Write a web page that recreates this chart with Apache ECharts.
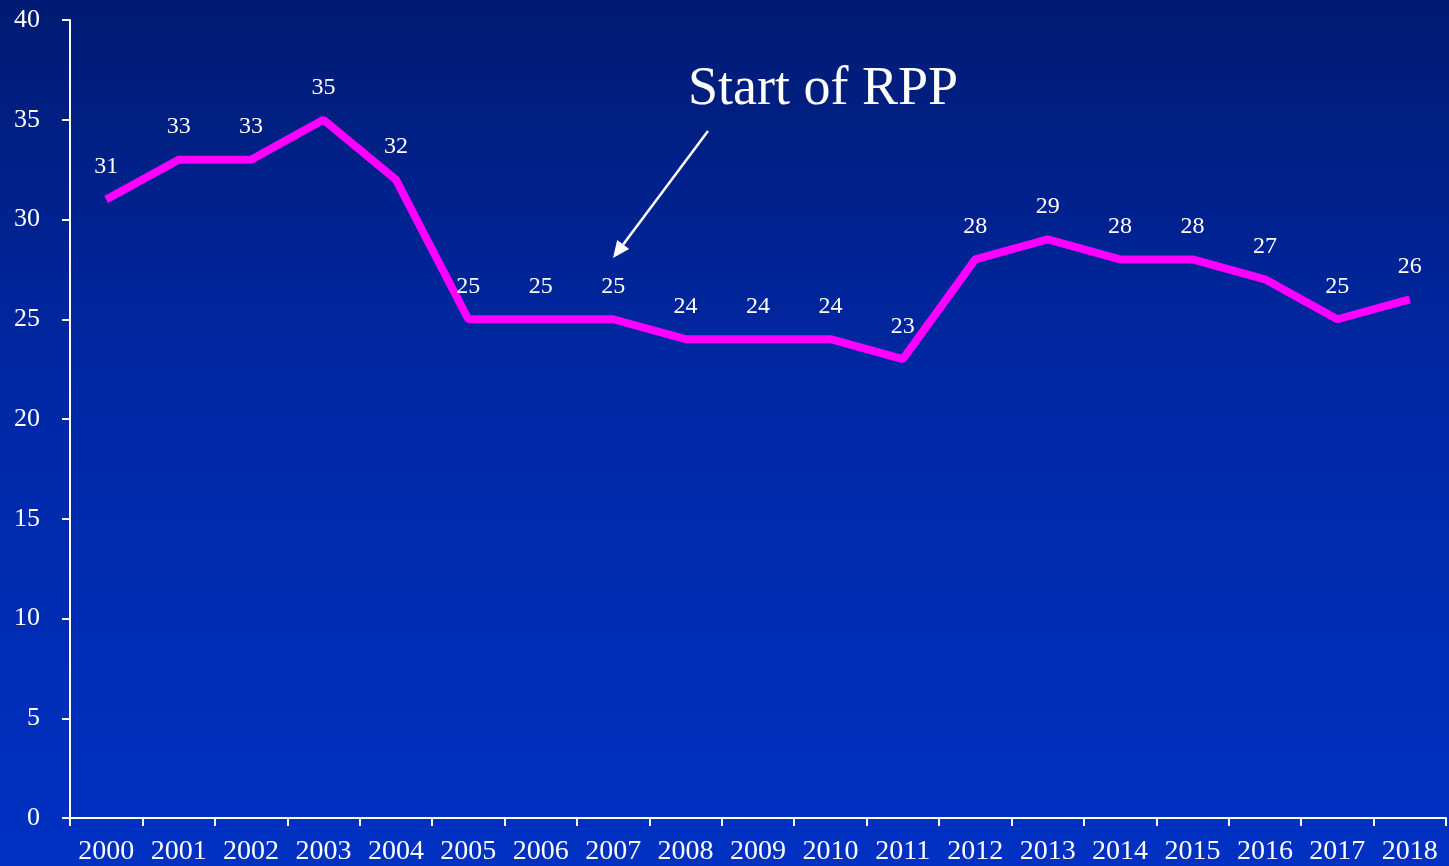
<!DOCTYPE html>
<html>
<head>
<meta charset="utf-8">
<style>
  html, body { margin: 0; padding: 0; }
  #main { width: 1449px; height: 866px; }
</style>
<script src="https://cdn.jsdelivr.net/npm/echarts@6/dist/echarts.min.js"></script>
</head>
<body>
<div id="main"></div>
<script>
// years on the x axis
var years = ['2000', '2001', '2002', '2003', '2004', '2005', '2006', '2007', '2008', '2009',
  '2010', '2011', '2012', '2013', '2014', '2015', '2016', '2017', '2018'];
// values
var values = [31, 33, 33, 35, 32, 25, 25, 25, 24, 24, 24, 23, 28, 29, 28, 28, 27, 25, 26];
var annotationText = 'Start of RPP';

var serif = "'Liberation Serif', 'Times New Roman', serif";

var myChart = echarts.init(document.getElementById('main'));

// arrow from the annotation down to 2007 (pixel positions)
var tail = [708, 131], tip = [613, 258];
var dx = tip[0] - tail[0], dy = tip[1] - tail[1];
var len = Math.sqrt(dx * dx + dy * dy);
var ux = dx / len, uy = dy / len;
var headLen = 17, headHalf = 7.5;
var base = [tip[0] - ux * headLen, tip[1] - uy * headLen];

var option = {
  backgroundColor: new echarts.graphic.LinearGradient(0, 0, 0, 1, [
    { offset: 0, color: '#001b72' },
    { offset: 0.45, color: '#0028a6' },
    { offset: 1, color: '#0031c2' }
  ]),
  animation: false,
  grid: { left: 70, right: 3, top: 20, bottom: 47 },
  xAxis: {
    type: 'category',
    data: years,
    boundaryGap: true,
    axisLine: { lineStyle: { color: '#ffffff', width: 2 } },
    axisTick: { show: true, length: 8, lineStyle: { color: '#ffffff', width: 2 } },
    axisLabel: { color: '#ffffff', fontFamily: serif, fontSize: 28, margin: 20, interval: 0 },
    splitLine: { show: false }
  },
  yAxis: {
    type: 'value',
    min: 0,
    max: 40,
    interval: 5,
    axisLine: { show: true, lineStyle: { color: '#ffffff', width: 2 } },
    axisTick: { show: true, length: 8, lineStyle: { color: '#ffffff', width: 2 } },
    axisLabel: { color: '#ffffff', fontFamily: serif, fontSize: 26, margin: 30 },
    splitLine: { show: false }
  },
  series: [
    {
      type: 'line',
      data: values,
      symbol: 'circle',
      symbolSize: 1,
      itemStyle: { color: 'rgba(255,0,255,0)', borderWidth: 0 },
      lineStyle: { color: '#ff00ff', width: 8 },
      label: {
        show: true,
        position: 'top',
        distance: 20,
        color: '#ffffff',
        fontFamily: serif,
        fontSize: 24
      }
    }
  ],
  graphic: [
    {
      type: 'text',
      left: 688,
      top: 63,
      style: {
        text: annotationText,
        fill: '#ffffff',
        font: '54px ' + serif
      }
    },
    {
      type: 'line',
      shape: { x1: tail[0], y1: tail[1], x2: base[0], y2: base[1] },
      style: { stroke: '#ffffff', lineWidth: 2.5 }
    },
    {
      type: 'polygon',
      shape: {
        points: [
          tip,
          [base[0] - uy * headHalf, base[1] + ux * headHalf],
          [base[0] + uy * headHalf, base[1] - ux * headHalf]
        ]
      },
      style: { fill: '#ffffff' }
    }
  ]
};

myChart.setOption(option);
</script>
</body>
</html>
